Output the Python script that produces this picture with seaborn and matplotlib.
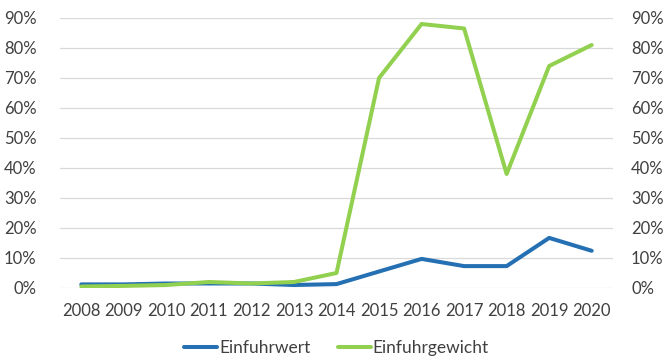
import pandas as pd
import matplotlib
matplotlib.use("Agg")
import matplotlib.pyplot as plt
import seaborn as sns
from matplotlib.ticker import PercentFormatter

years = list(range(2008, 2021))
einfuhrwert = [1.2, 1.2, 1.5, 1.5, 1.5, 1.0, 1.3, 5.5, 9.7, 7.3, 7.3, 16.7, 12.4]
einfuhrgewicht = [0.5, 0.7, 1.0, 2.0, 1.5, 2.0, 5.0, 70.0, 88.0, 86.5, 38.0, 74.0, 81.0]
series_names = ['Einfuhrwert', 'Einfuhrgewicht']
colors = ['#2470B3', '#92D050']
y_ticks = [0, 10, 20, 30, 40, 50, 60, 70, 80, 90]

df = pd.DataFrame({
    'Jahr': years * 2,
    'Anteil': einfuhrwert + einfuhrgewicht,
    'Serie': [series_names[0]] * len(years) + [series_names[1]] * len(years),
})

sns.set_style('white')
plt.rcParams['font.family'] = ['Lato', 'DejaVu Sans']

fig = plt.figure(figsize=(6.67, 3.6), dpi=100)
ax = fig.add_axes([0.09, 0.2, 0.829, 0.75])

sns.lineplot(data=df, x='Jahr', y='Anteil', hue='Serie', palette=colors,
             linewidth=2.9, ax=ax, legend=True)

ax.set_xlim(2007.5, 2020.5)
ax.set_ylim(0, 90)
ax.set_xticks(years)
ax.set_xticklabels([str(y) for y in years])
ax.set_yticks(y_ticks)
ax.yaxis.set_major_formatter(PercentFormatter(decimals=0))
ax.grid(axis='y', color='#D9D9D9', linewidth=0.9)
ax.set_axisbelow(True)
for s in ax.spines.values():
    s.set_visible(False)
ax.set_xlabel('')
ax.set_ylabel('')
ax.tick_params(axis='both', length=0, labelsize=12, colors='#404040')
ax.tick_params(axis='y', pad=17)
ax.tick_params(axis='x', pad=11)

ax2 = ax.twinx()
ax2.set_ylim(0, 90)
ax2.set_yticks(y_ticks)
ax2.yaxis.set_major_formatter(PercentFormatter(decimals=0))
for s in ax2.spines.values():
    s.set_visible(False)
ax2.tick_params(axis='y', length=0, labelsize=12, colors='#404040', pad=13)

handles, labels = ax.get_legend_handles_labels()
ax.legend(handles, labels, loc='upper center', bbox_to_anchor=(0.5, -0.135),
          ncol=2, frameon=False, fontsize=12.5, handlelength=1.9,
          handletextpad=0.1, columnspacing=1.6, labelcolor='#404040')

fig.savefig('out.png', dpi=100)
